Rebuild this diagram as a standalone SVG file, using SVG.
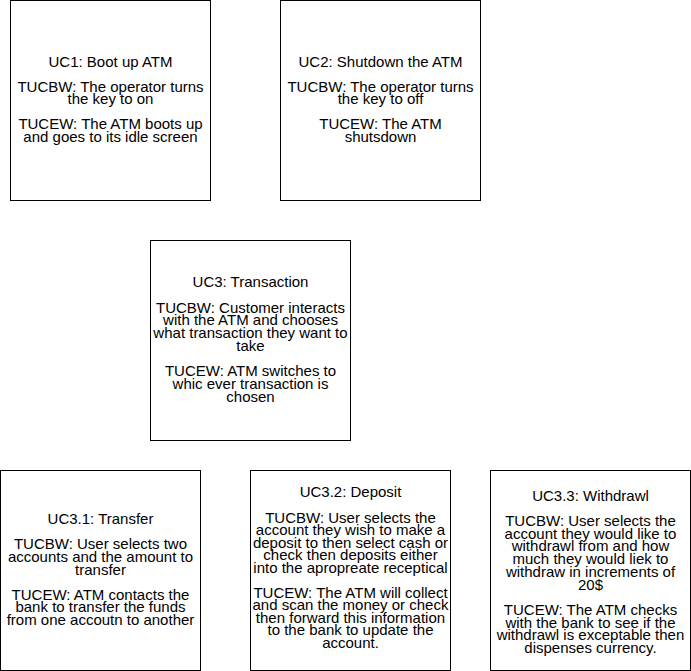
<svg xmlns="http://www.w3.org/2000/svg" width="691" height="671" viewBox="0 0 691 671">
<style>
.box{fill:#fff;stroke:#000;stroke-width:1}
text{font-family:"Liberation Sans",Arial,Helvetica,sans-serif;font-size:15px;fill:#000;text-anchor:middle}
</style>
<rect x="0" y="0" width="691" height="671" fill="#fff"/>
<g id="connectors"/>
<g id="uc1">
<rect class="box" x="10.5" y="0.5" width="200" height="200"/>
<text x="110.5" y="66.5">UC1: Boot up ATM</text>
<text x="110.5" y="91.5">TUCBW: The operator turns</text>
<text x="110.5" y="104.3">the key to on</text>
<text x="110.5" y="129.3">TUCEW: The ATM boots up</text>
<text x="110.5" y="142">and goes to its idle screen</text>
</g>
<g id="uc2">
<rect class="box" x="280.5" y="0.5" width="200" height="200"/>
<text x="380.5" y="66.5">UC2: Shutdown the ATM</text>
<text x="380.5" y="91.5">TUCBW: The operator turns</text>
<text x="380.5" y="104.3">the key to off</text>
<text x="380.5" y="129.3">TUCEW: The ATM</text>
<text x="380.5" y="142">shutsdown</text>
</g>
<g id="uc3">
<rect class="box" x="150.5" y="240.5" width="200" height="200"/>
<text x="250.5" y="287">UC3: Transaction</text>
<text x="250.5" y="312.5">TUCBW: Customer interacts</text>
<text x="250.5" y="325.2">with the ATM and chooses</text>
<text x="250.5" y="337.9">what transaction they want to</text>
<text x="250.5" y="350.6">take</text>
<text x="250.5" y="376.3">TUCEW: ATM switches to</text>
<text x="250.5" y="389">whic ever transaction is</text>
<text x="250.5" y="401.7">chosen</text>
</g>
<g id="uc3-1">
<rect class="box" x="0.5" y="470.5" width="200" height="200"/>
<text x="100.5" y="524">UC3.1: Transfer</text>
<text x="100.5" y="549.3">TUCBW: User selects two</text>
<text x="100.5" y="562">accounts and the amount to</text>
<text x="100.5" y="574.7">transfer</text>
<text x="100.5" y="599.5">TUCEW: ATM contacts the</text>
<text x="100.5" y="612.2">bank to transfer the funds</text>
<text x="100.5" y="624.9">from one accoutn to another</text>
</g>
<g id="uc3-2">
<rect class="box" x="250.5" y="470.5" width="200" height="200"/>
<text x="350.5" y="496.7">UC3.2: Deposit</text>
<text x="350.5" y="522.5">TUCBW: User selects the</text>
<text x="350.5" y="535.1">account they wish to make a</text>
<text x="350.5" y="547.7">deposit to then select cash or</text>
<text x="350.5" y="560.3">check then deposits either</text>
<text x="350.5" y="572.9">into the apropreate receptical</text>
<text x="350.5" y="597.5">TUCEW: The ATM will collect</text>
<text x="350.5" y="610.1">and scan the money or check</text>
<text x="350.5" y="622.7">then forward this information</text>
<text x="350.5" y="635.3">to the bank to update the</text>
<text x="350.5" y="647.9">account.</text>
</g>
<g id="uc3-3">
<rect class="box" x="490.5" y="470.5" width="200" height="200"/>
<text x="590.5" y="500.5">UC3.3: Withdrawl</text>
<text x="590.5" y="526">TUCBW: User selects the</text>
<text x="590.5" y="538.7">account they would like to</text>
<text x="590.5" y="551.4">withdrawl from and how</text>
<text x="590.5" y="564.1">much they would liek to</text>
<text x="590.5" y="576.8">withdraw in increments of</text>
<text x="590.5" y="589.5">20$</text>
<text x="590.5" y="615">TUCEW: The ATM checks</text>
<text x="590.5" y="627.7">with the bank to see if the</text>
<text x="590.5" y="640.4">withdrawl is exceptable then</text>
<text x="590.5" y="653.1">dispenses currency.</text>
</g>
</svg>
